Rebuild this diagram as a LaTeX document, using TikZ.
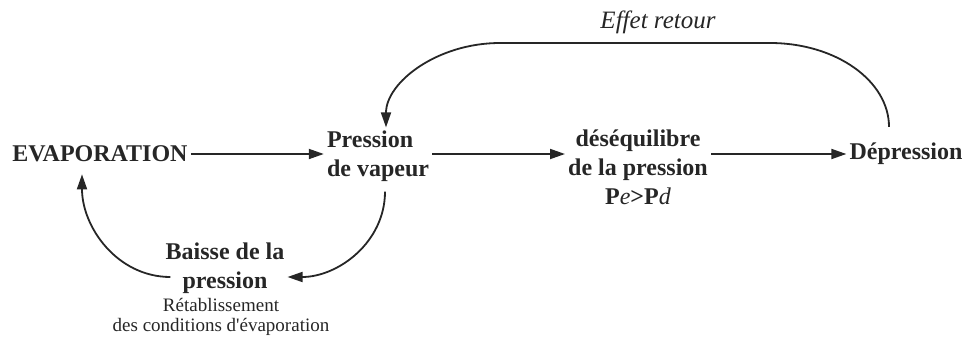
\documentclass[tikz,border=0pt]{standalone}
\usepackage{fontspec}
\setmainfont{Liberation Serif}
\usetikzlibrary{arrows.meta}
\definecolor{ink}{HTML}{262626}
\begin{document}
\begin{tikzpicture}[x=1pt,y=1pt,
        word/.style={text=ink,inner sep=3pt,font=\fontsize{24}{29}\selectfont\bfseries},
        note/.style={text=ink,inner sep=0pt,font=\fontsize{19}{20}\selectfont},
        arr/.style={draw=ink,line width=1.8pt,-{Triangle[length=15pt,width=10pt]}}]
            \useasboundingbox (0,0) rectangle (971,-340);

            \node[word] (evap) at (100,-154) {EVAPORATION};
            \node[word,align=left] (vap) at (378,-156) {Pression\\de vapeur};
            \node[word,align=center] (deseq) at (638,-167) {déséquilibre\\de la pression\\P\textmd{\textit{e}}>P\textmd{\textit{d}}};
            \node[word] (dep) at (906,-154) {Dépression};
            \node[word,align=center] (baisse) at (225,-268) {Baisse de la\\pression};
            \node[note,align=center] (retab) at (221,-317) {Rétablissement\\des conditions d\textquotesingle évaporation};
            \node[text=ink,font=\fontsize{25}{29}\selectfont\itshape] (effet) at (658,-22) {Effet retour};
            \coordinate (topR) at (770,-43);
            \coordinate (topL) at (500,-43);

            \path (evap.east) edge [arr] (evap.east -| vap.west);
            \path (vap.east |- evap.east) edge [arr] (deseq.west |- evap.east);
            \path (deseq.east |- evap.east) edge [arr] (dep.west);
            \path ([xshift=7pt,yshift=-7pt]vap.south) edge [arr,out=-90,in=0] ([yshift=-9pt]baisse.east);
            \path ([xshift=8pt,yshift=-9pt]baisse.west) edge [arr,out=180,in=-90] ([xshift=-18pt,yshift=-9pt]evap.south);
            \draw [arr] ([xshift=-17pt,yshift=13pt]dep.north) .. controls +(0,46) and +(66,0) .. (topR) -- (topL) .. controls +(-63,0) and +(0,45) .. ([xshift=8pt]vap.north);
        \end{tikzpicture}
\end{document}
